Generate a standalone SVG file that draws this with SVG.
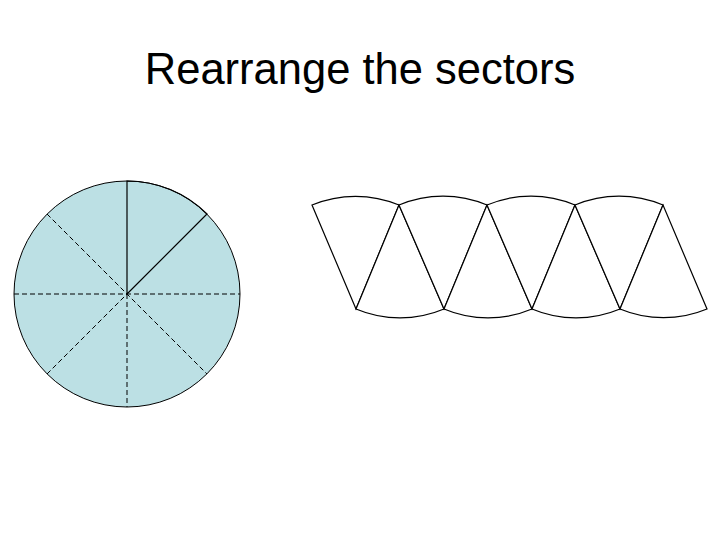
<svg xmlns="http://www.w3.org/2000/svg" width="720" height="540" viewBox="0 0 720 540">
<style>
.s{fill:none;stroke:#000;stroke-width:1.2}
.d{fill:none;stroke:#000;stroke-width:1;stroke-dasharray:5,3}
.w{fill:#fff;stroke:#000;stroke-width:1.2}
</style>
<rect width="720" height="540" fill="#fff"/>
<text x="360" y="84" text-anchor="middle" font-family="Liberation Sans, Arial, sans-serif" font-size="43.5">Rearrange the sectors</text>
<g id="circle">
<circle cx="127" cy="294" r="113" fill="#BCE0E4" stroke="#000" stroke-width="1"/>
<line class="d" x1="14" y1="294" x2="240" y2="294"/>
<line class="d" x1="127" y1="294" x2="127" y2="407"/>
<line class="d" x1="47" y1="214" x2="207" y2="374"/>
<line class="d" x1="47" y1="374" x2="127" y2="294"/>
<path class="s" d="M127,294 L127,181 A113,113 0 0 1 207,214 Z"/>
</g>
<g id="sectors">
<path class="w" d="M356,309 L312,205 A113,113 0 0 1 399,205 Z"/>
<path class="w" d="M399,205 L356,309 A113,113 0 0 0 444,309 Z"/>
<path class="w" d="M444,309 L399,205 A113,113 0 0 1 487,205 Z"/>
<path class="w" d="M487,205 L444,309 A113,113 0 0 0 532,309 Z"/>
<path class="w" d="M532,309 L487,205 A113,113 0 0 1 575,205 Z"/>
<path class="w" d="M575,205 L532,309 A113,113 0 0 0 620,309 Z"/>
<path class="w" d="M620,309 L575,205 A113,113 0 0 1 663,205 Z"/>
<path class="w" d="M663,205 L620,309 A113,113 0 0 0 707,309 Z"/>
</g>
</svg>
